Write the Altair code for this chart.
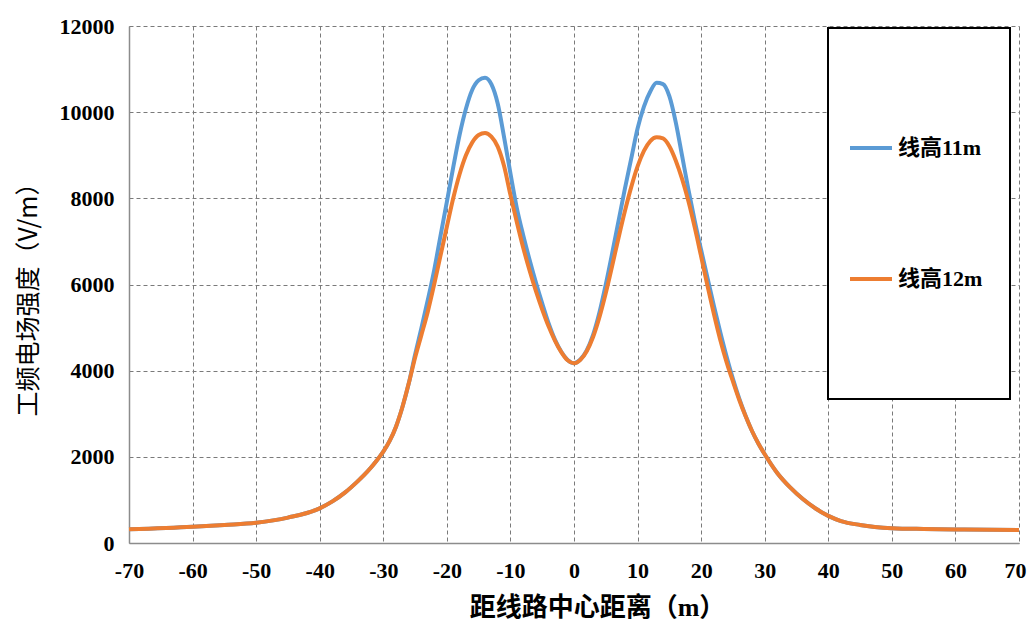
import altair as alt
import pandas as pd

# distance from line centre (m)
dist = [-70, -60, -55, -50, -45, -40, -38, -36, -34, -33, -32, -31, -30,
        -29, -28, -27, -26, -25, -24, -23, -22, -21, -20, -19, -18, -17, -16, -15,
        -14, -13, -12, -11, -10, -9, -8, -7, -6, -5, -4, -3, -2, -1, 0,
        1, 2, 3, 4, 5, 6, 7, 8, 9, 10, 11, 12, 13, 14, 15, 16, 17, 18, 19, 20,
        21, 22, 23, 24, 25, 26, 27, 28, 29, 30, 32, 34, 36, 38, 40, 42, 45, 50,
        55, 60, 70]
# line height 11 m (V/m)
e_11m = [317, 378, 420, 470, 590, 805, 965, 1175, 1437, 1580, 1740, 1920, 2120,
         2370, 2700, 3150, 3700, 4370, 4990, 5640, 6330, 7130, 7920, 8720, 9470, 10080,
         10520, 10740, 10800, 10650, 10200, 9420, 8580, 7780, 7150, 6580, 6050, 5560,
         5100, 4720, 4440, 4250, 4175,
         4260, 4470, 4830, 5350, 6000, 6720, 7470, 8220, 8920, 9620, 10130, 10480,
         10680, 10650, 10370, 9770, 8990, 8200, 7470, 6800,
         6150, 5510, 4900, 4330, 3810, 3350, 2950, 2600, 2310, 2060, 1620, 1290, 1020,
         800, 630, 510, 420, 345, 325, 315, 300]
# line height 12 m (V/m)
e_12m = [317, 378, 420, 470, 590, 805, 965, 1175, 1437, 1580, 1740, 1920, 2120,
         2370, 2700, 3150, 3700, 4300, 4830, 5370, 6000, 6670, 7340, 8000, 8560, 9000,
         9300, 9470, 9515, 9430, 9200, 8750, 8080, 7450, 6860, 6330, 5850, 5420,
         5030, 4700, 4430, 4240, 4170,
         4250, 4450, 4780, 5240, 5800, 6430, 7080, 7700, 8260, 8740, 9100, 9330,
         9415, 9390, 9210, 8880, 8450, 7930, 7320, 6650,
         5970, 5320, 4720, 4200, 3750, 3320, 2940, 2600, 2310, 2060, 1620, 1290, 1020,
         800, 630, 510, 420, 345, 325, 315, 300]
series_names = ["线高11m", "线高12m"]
series_colors = ["#5B9BD5", "#ED7D31"]
x_ticks = list(range(-70, 71, 10))
y_ticks = list(range(0, 12001, 2000))

df = pd.DataFrame({"x": dist, series_names[0]: e_11m, series_names[1]: e_12m})
long = df.melt(id_vars="x", var_name="series", value_name="E")

serif_cjk = "Liberation Serif, Noto Sans CJK SC"

lines = alt.Chart(long).mark_line(strokeWidth=4, interpolate="monotone").encode(
    x=alt.X("x:Q", scale=alt.Scale(domain=[-70, 70], nice=False, zero=False),
            axis=alt.Axis(values=x_ticks, title="距线路中心距离（m）",
                          labelExpr="datum.value + ''", labelFlush=False,
                          labelOverlap=False, labelPadding=17,
                          labelOffset={"condition": {"test": "datum.value == 70",
                                                     "value": -4}, "value": 0},
                          titleX=468, titleY=64, titleBaseline="middle",
                          titleAlign="center", titleFontSize=26)),
    y=alt.Y("E:Q", scale=alt.Scale(domain=[0, 12000], nice=False),
            axis=alt.Axis(values=y_ticks, title="工频电场强度（V/m）",
                          labelExpr="datum.value + ''", labelOverlap=False,
                          labelPadding=15,
                          titleX=-101, titleY=267, titleAngle=270,
                          titleBaseline="middle", titleAlign="center",
                          titleFontSize=25)),
    color=alt.Color("series:N",
                    scale=alt.Scale(domain=series_names, range=series_colors),
                    legend=alt.Legend(title=None, orient="none", legendX=719, legendY=99,
                                      symbolType="stroke", symbolSize=1764,
                                      symbolStrokeWidth=4, rowPadding=97, padding=0,
                                      labelFont=serif_cjk, labelFontSize=22,
                                      labelFontWeight="bold", labelColor="#000000",
                                      labelOffset=4, labelLimit=300)),
)

frame = alt.Chart(pd.DataFrame({"k": [0]})).mark_rect(
    fill="white", stroke="#000000", strokeWidth=2
).encode(x=alt.value(699), x2=alt.value(881), y=alt.value(2), y2=alt.value(373))

chart = alt.layer(lines, frame).properties(
    width=890, height=517,
    autosize=alt.AutoSizeParams(type="none"),
    padding={"left": 121, "top": 18, "right": 9, "bottom": 82},
).configure_view(stroke=None).configure_axis(
    grid=True, gridColor="#7a7a7a", gridDash=[4, 3], gridWidth=1,
    domainColor="#8c8c8c", domainWidth=1.5, ticks=False,
    labelFont="Liberation Serif", labelFontSize=22, labelFontWeight="bold",
    labelColor="#000000",
    titleFont=serif_cjk, titleFontWeight="bold", titleColor="#000000",
).configure_axisY(titleFont="Noto Sans CJK SC", titleFontWeight="normal")

chart.save("out.html", embed_options={"renderer": "svg", "actions": False})
